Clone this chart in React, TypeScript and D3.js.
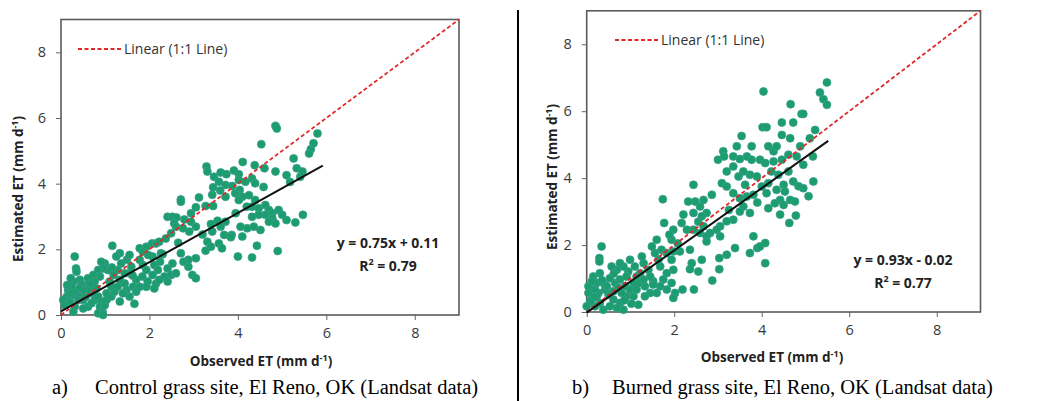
import React, { useEffect, useRef } from 'react';
import * as d3 from 'd3';

// observed vs estimated ET (mm/day)
const controlPoints: [number, number][] = [
  [4.85, 5.76], [4.88, 5.68], [4.53, 5.2], [5.8, 5.53], [5.65, 5.05], [5.61, 4.92], [5.71, 5.23],
  [4.11, 4.66], [4.38, 4.56], [4.6, 4.47], [4.85, 4.37], [5.26, 4.77], [5.33, 4.47], [5.1, 4.26],
  [5.41, 4.21], [5.46, 4.37], [3.29, 4.52], [3.31, 4.37], [3.46, 4.21], [3.61, 4.34], [3.74, 4.29],
  [3.91, 4.4], [4.02, 4.29], [4.02, 4.11], [3.57, 4.06], [3.72, 3.96], [3.44, 3.89], [3.87, 3.93],
  [4.17, 4.06], [4.32, 4.16], [4.39, 4.01], [4.04, 3.81], [3.94, 3.71], [4.1, 3.6], [4.02, 3.5],
  [3.6, 3.79], [3.42, 3.66], [3.12, 3.58], [3.27, 3.32], [3.44, 3.32], [3.72, 3.6], [2.71, 3.52],
  [2.71, 3.45], [2.41, 2.99], [2.52, 2.99], [2.61, 2.97], [2.56, 2.79], [2.79, 2.91], [2.94, 2.84],
  [3.05, 3.28], [2.94, 3.1], [4.25, 3.65], [4.39, 3.5], [4.32, 3.3], [4.47, 3.25], [4.62, 3.35],
  [4.7, 3.2], [4.78, 3.1], [4.92, 3.2], [5.0, 3.05], [4.78, 2.94], [4.62, 3.05], [4.47, 3.05],
  [4.32, 2.99], [4.7, 2.84], [4.85, 2.79], [5.1, 2.89], [5.3, 2.82], [5.47, 3.05], [4.06, 2.69],
  [4.21, 2.64], [4.36, 2.69], [4.51, 2.59], [4.1, 2.39], [3.86, 2.44], [3.72, 2.84], [3.54, 2.87],
  [3.39, 2.77], [3.61, 2.69], [3.42, 2.54], [3.69, 2.44], [3.05, 2.69], [2.9, 2.54], [3.31, 2.23],
  [3.57, 2.18], [3.64, 2.03], [3.39, 2.08], [3.84, 2.37], [4.0, 1.78], [4.32, 1.75], [4.43, 2.11],
  [4.9, 1.95], [3.27, 1.96], [3.05, 1.73], [2.88, 1.68], [2.71, 1.88], [2.77, 1.62], [2.88, 1.47],
  [2.97, 1.22], [3.05, 1.12], [2.52, 1.57], [2.41, 1.42], [2.24, 1.62], [2.26, 1.88], [2.07, 1.78],
  [1.93, 2.08], [2.06, 2.18], [2.15, 2.18], [2.22, 2.23], [2.37, 2.33], [2.49, 2.49], [2.6, 2.69],
  [2.76, 2.64], [1.78, 2.03], [1.85, 1.93], [1.97, 1.83], [1.78, 1.68], [1.85, 1.52], [2.11, 1.52],
  [2.19, 1.37], [1.93, 1.37], [2.07, 1.22], [1.84, 1.17], [1.96, 1.02], [2.15, 0.96], [1.7, 1.07],
  [1.55, 1.27], [1.59, 1.47], [1.49, 1.68], [1.55, 1.83], [1.33, 1.88], [1.16, 2.11], [1.25, 1.78],
  [1.36, 1.57], [1.28, 1.37], [1.44, 1.27], [1.63, 0.86], [1.44, 0.96], [1.33, 1.07], [1.19, 1.22],
  [1.06, 1.37], [0.99, 1.57], [0.91, 1.62], [0.95, 1.42], [0.84, 1.37], [0.88, 1.17], [0.73, 1.22],
  [0.76, 1.02], [0.61, 1.12], [0.58, 0.91], [0.43, 1.07], [0.46, 0.91], [0.28, 1.02], [0.31, 1.78],
  [0.34, 1.42], [0.35, 1.32], [0.24, 0.86], [0.16, 0.76], [0.13, 0.56], [0.05, 0.46], [0.09, 0.3],
  [0.2, 0.41], [0.28, 0.61], [0.35, 0.71], [0.43, 0.56], [0.31, 0.25], [0.28, 0.1], [0.5, 0.46],
  [0.58, 0.61], [0.65, 0.76], [0.73, 0.66], [0.8, 0.81], [0.76, 0.46], [0.84, 0.56], [0.91, 0.41],
  [0.88, 0.25], [0.94, 0.1], [0.84, 0.05], [0.95, 0.0], [0.99, 0.3], [1.03, 0.46], [1.03, 0.66],
  [1.14, 0.56], [1.21, 0.71], [1.33, 0.41], [1.66, 0.34], [1.14, 0.86], [1.48, 0.76], [1.7, 0.71],
  [1.78, 0.86], [1.93, 0.86], [2.11, 0.81], [2.22, 1.07], [2.34, 1.17], [2.49, 1.22], [2.6, 1.27],
  [2.41, 1.02], [1.55, 0.56], [1.4, 0.66], [1.28, 0.86], [1.1, 1.02], [0.5, 0.76], [0.61, 0.25],
  [0.69, 0.36], [0.5, 0.2], [0.14, 0.91], [0.39, 0.46],
  [0.2, 0.66], [0.42, 0.82], [0.66, 0.95], [0.22, 1.12], [0.55, 0.55], [1.15, 1.45], [1.62, 1.2],
  [2.3, 1.85], [2.65, 2.2], [3.2, 2.45], [3.95, 3.1], [4.58, 3.9], [5.18, 4.05], [4.2, 3.3],
];

const burnedPoints: [number, number][] = [
  [5.49, 6.86], [5.33, 6.56], [5.41, 6.36], [5.49, 6.19], [4.04, 6.59], [4.66, 6.21], [4.91, 5.92],
  [4.95, 5.92], [4.72, 5.66], [4.46, 5.66], [4.02, 5.52], [4.11, 5.52], [4.65, 5.19], [4.46, 5.29],
  [5.22, 5.44], [5.1, 5.19], [3.54, 5.26], [3.77, 4.95], [3.43, 4.95], [3.12, 4.8], [3.14, 4.65],
  [3.0, 4.55], [3.35, 4.65], [3.5, 4.57], [3.66, 4.65], [3.77, 4.55], [3.96, 4.55], [4.15, 4.95],
  [4.27, 4.8], [4.34, 4.95], [4.08, 4.45], [4.27, 4.5], [4.46, 4.55], [4.61, 4.7], [4.8, 4.65],
  [4.95, 4.4], [5.17, 4.65], [5.18, 3.9], [5.07, 3.46], [4.95, 3.7], [4.84, 3.76], [4.72, 3.9],
  [4.61, 4.2], [4.5, 3.8], [4.34, 3.65], [4.53, 3.6], [4.42, 3.35], [4.3, 3.25], [4.5, 3.2],
  [4.65, 3.35], [4.76, 3.3], [4.63, 2.66], [4.78, 2.88], [4.42, 2.91], [4.15, 3.1], [4.11, 3.55],
  [4.0, 3.75], [4.15, 3.85], [3.89, 4.05], [3.73, 4.1], [3.58, 4.2], [3.47, 4.05], [3.35, 4.35],
  [3.2, 4.2], [3.09, 3.85], [3.2, 3.75], [3.35, 3.55], [3.5, 3.4], [3.66, 3.45], [3.81, 3.5],
  [3.9, 3.27], [3.58, 3.15], [3.73, 2.96], [3.5, 3.0], [3.35, 2.76], [3.2, 2.71], [3.05, 2.56],
  [2.86, 3.5], [2.67, 3.35], [2.44, 3.8], [2.48, 3.3], [2.32, 3.3], [2.59, 3.15], [2.74, 2.96],
  [2.63, 2.86], [2.44, 2.96], [2.21, 2.91], [2.17, 2.66], [2.29, 2.46], [2.44, 2.46], [2.67, 2.56],
  [2.82, 2.36], [2.74, 2.26], [2.97, 2.46], [3.05, 2.26], [2.74, 2.11], [2.59, 2.36], [3.81, 2.26],
  [3.9, 1.91], [3.73, 1.76], [4.08, 2.06], [4.08, 1.46], [3.96, 1.96], [3.39, 1.91], [3.2, 1.71],
  [3.03, 1.61], [3.03, 1.28], [2.87, 0.94], [2.36, 1.86], [2.4, 1.46], [2.36, 1.28], [2.55, 1.21],
  [2.63, 1.56], [2.45, 0.67], [2.19, 0.67], [2.13, 1.81], [1.98, 2.46], [1.94, 2.16], [1.77, 2.66],
  [1.74, 3.37], [1.89, 2.31], [1.6, 2.16], [1.49, 1.96], [1.56, 1.76], [1.71, 1.86], [1.83, 1.76],
  [1.98, 1.81], [1.94, 1.56], [1.98, 1.26], [1.83, 1.16], [1.68, 1.36], [1.75, 0.97], [1.94, 0.87],
  [2.02, 0.57], [1.98, 0.42], [1.83, 0.67], [1.68, 0.77], [1.6, 0.57], [1.52, 0.92], [1.41, 1.26],
  [1.3, 1.46], [1.26, 1.66], [1.1, 1.36], [1.14, 1.06], [0.99, 1.56], [0.95, 1.21], [0.84, 1.36],
  [0.76, 1.46], [0.69, 1.26], [0.57, 1.36], [0.53, 1.01], [0.65, 0.87], [0.76, 0.97], [0.88, 0.77],
  [0.99, 0.67], [1.14, 0.67], [1.22, 0.87], [1.33, 0.77], [1.45, 0.57], [1.18, 0.22], [1.07, 0.47],
  [0.91, 0.47], [0.8, 0.57], [0.76, 0.27], [0.84, 0.07], [0.69, 0.12], [0.61, 0.37], [0.5, 0.52],
  [0.42, 0.67], [0.38, 0.87], [0.3, 1.16], [0.34, 1.96], [0.29, 1.61], [0.29, 1.51], [0.23, 0.87],
  [0.15, 1.06], [0.08, 0.77], [0.04, 0.57], [0.11, 0.37], [0.19, 0.17], [0.3, 0.27], [0.38, 0.07],
  [0.53, 0.17], [0.27, 0.57], [0.19, 0.67], [0.46, 0.77], [0.61, 0.62], [0.08, 0.32], [0.23, 0.47],
  [0.0, 0.17], [0.04, 0.77], [0.91, 1.06], [1.07, 0.87], [1.3, 0.97], [1.52, 0.82], [1.33, 0.47],
  [1.64, 1.56], [1.45, 1.06], [1.22, 1.16],
  [0.12, 0.92], [0.35, 0.95], [0.62, 1.15], [0.86, 0.35], [1.02, 0.25], [0.72, 0.72], [0.18, 0.45],
  [2.08, 2.05], [2.55, 2.7], [3.25, 3.05], [3.62, 3.8], [4.22, 4.2], [4.88, 4.95], [4.38, 4.1],
];

// regression fits: [slope, intercept, last observed x]
const controlFit = [0.75, 0.11, 5.92];
const burnedFit = [0.93, -0.02, 5.52];

const controlEquation = ['y = 0.75x + 0.11', '0.79'];
const burnedEquation = ['y = 0.93x - 0.02', '0.77'];

const tickValues = [0, 2, 4, 6, 8];
const axisMax = 9;

const captions = [
  ['a)', 'Control grass site, El Reno, OK (Landsat data)'],
  ['b)', 'Burned grass site, El Reno, OK (Landsat data)'],
];

const SANS = '"Open Sans", "Noto Sans", sans-serif';
const SERIF = '"Liberation Serif", "DejaVu Serif", serif';

const panels = [
  {
    points: controlPoints, fit: controlFit, eq: controlEquation, caption: captions[0],
    left: 61, right: 459, top: 19.5, bottom: 315,
    legendX: 78, legendY: 49, eqX: 388, eqY: 243,
    xTitle: [261, 366], yTitle: [18, 189],
    capLabelX: 52, capTextX: 95, capY: 394,
  },
  {
    points: burnedPoints, fit: burnedFit, eq: burnedEquation, caption: captions[1],
    left: 586.7, right: 980.5, top: 10.8, bottom: 312,
    legendX: 615, legendY: 40, eqX: 903, eqY: 260,
    xTitle: [772, 362], yTitle: [552, 177],
    capLabelX: 572, capTextX: 612, capY: 394,
  },
];

const App = () => {
  const svgRef = useRef<SVGSVGElement>(null);

  useEffect(() => {
    const svg = d3.select(svgRef.current);
    svg.selectAll('*').remove();

    panels.forEach(p => {
      const x = d3.scaleLinear().domain([0, axisMax]).range([p.left, p.right]);
      const y = d3.scaleLinear().domain([0, axisMax]).range([p.bottom, p.top]);
      const g = svg.append('g');

      // axes (ticks only, the frame is drawn as a box)
      const xAxis = g.append('g')
        .attr('transform', `translate(0,${p.bottom})`)
        .call(d3.axisBottom(x).tickValues(tickValues).tickSize(5).tickPadding(8).tickFormat(d3.format('d')));
      const yAxis = g.append('g')
        .attr('transform', `translate(${p.left},0)`)
        .call(d3.axisLeft(y).tickValues(tickValues).tickSize(5).tickPadding(10).tickFormat(d3.format('d')));
      [xAxis, yAxis].forEach(a => {
        a.select('.domain').remove();
        a.selectAll('line').attr('stroke', '#666');
        a.selectAll('text')
          .style('font-family', SANS)
          .style('font-size', '14.5px')
          .attr('fill', '#3a3a3a');
      });

      g.append('rect')
        .attr('x', p.left).attr('y', p.top)
        .attr('width', p.right - p.left).attr('height', p.bottom - p.top)
        .attr('fill', 'none').attr('stroke', '#5a5a5a').attr('stroke-width', 1.6);

      g.append('g').selectAll('circle')
        .data(p.points)
        .join('circle')
        .attr('cx', d => x(d[0]))
        .attr('cy', d => y(d[1]))
        .attr('r', 4)
        .attr('fill', '#1c9d6c')
        .attr('stroke', '#3a9c95')
        .attr('stroke-width', 0.7);

      // 1:1 line
      g.append('line')
        .attr('x1', x(0)).attr('y1', y(0)).attr('x2', x(axisMax)).attr('y2', y(axisMax))
        .attr('stroke', '#e02828').attr('stroke-width', 1.8).attr('stroke-dasharray', '4 2.5');

      // fitted regression
      const [slope, intercept, xEnd] = p.fit;
      g.append('line')
        .attr('x1', x(0)).attr('y1', y(intercept))
        .attr('x2', x(xEnd)).attr('y2', y(slope * xEnd + intercept))
        .attr('stroke', '#111').attr('stroke-width', 2);

      // legend
      g.append('line')
        .attr('x1', p.legendX).attr('x2', p.legendX + 44)
        .attr('y1', p.legendY).attr('y2', p.legendY)
        .attr('stroke', '#e02828').attr('stroke-width', 1.8).attr('stroke-dasharray', '4 2.5');
      g.append('text')
        .attr('x', p.legendX + 46).attr('y', p.legendY + 5)
        .style('font-family', SANS).style('font-size', '14px').attr('fill', '#333')
        .text('Linear (1:1 Line)');

      // equation
      const eq = g.append('g')
        .style('font-family', SANS).style('font-size', '14px').style('font-weight', 'bold')
        .attr('fill', '#222').attr('text-anchor', 'middle');
      eq.append('text').attr('x', p.eqX).attr('y', p.eqY + 5).text(p.eq[0]);
      const r2 = eq.append('text').attr('x', p.eqX).attr('y', p.eqY + 28);
      r2.append('tspan').text('R');
      r2.append('tspan').attr('dy', -6).style('font-size', '9px').text('2');
      r2.append('tspan').attr('dy', 6).text(` = ${p.eq[1]}`);

      // axis titles
      const xt = g.append('text')
        .attr('x', p.xTitle[0]).attr('y', p.xTitle[1])
        .attr('text-anchor', 'middle')
        .style('font-family', SANS).style('font-size', '13.5px').style('font-weight', 'bold')
        .attr('fill', '#222');
      xt.append('tspan').text('Observed ET (mm d');
      xt.append('tspan').attr('dy', -5).style('font-size', '9px').text('-1');
      xt.append('tspan').attr('dy', 5).text(')');

      const yt = g.append('text')
        .attr('transform', `translate(${p.yTitle[0]},${p.yTitle[1]}) rotate(-90)`)
        .attr('text-anchor', 'middle').attr('dy', '0.35em')
        .style('font-family', SANS).style('font-size', '13.5px').style('font-weight', 'bold')
        .attr('fill', '#222');
      yt.append('tspan').text('Estimated ET (mm d');
      yt.append('tspan').attr('dy', -5).style('font-size', '9px').text('-1');
      yt.append('tspan').attr('dy', 5).text(')');

      // caption
      g.append('text')
        .attr('x', p.capLabelX).attr('y', p.capY)
        .style('font-family', SERIF).style('font-size', '20.5px').attr('fill', '#000')
        .text(p.caption[0]);
      g.append('text')
        .attr('x', p.capTextX).attr('y', p.capY)
        .style('font-family', SERIF).style('font-size', '20.5px').attr('fill', '#000')
        .text(p.caption[1]);
    });

    // divider between the two panels
    svg.append('line')
      .attr('x1', 518).attr('x2', 518).attr('y1', 10).attr('y2', 401)
      .attr('stroke', '#000').attr('stroke-width', 2);
  }, []);

  return (
    <svg
      ref={svgRef}
      width={1037}
      height={401}
      style={{ position: 'absolute', left: 0, top: 0, background: '#fff' }}
    />
  );
};

export default App;
